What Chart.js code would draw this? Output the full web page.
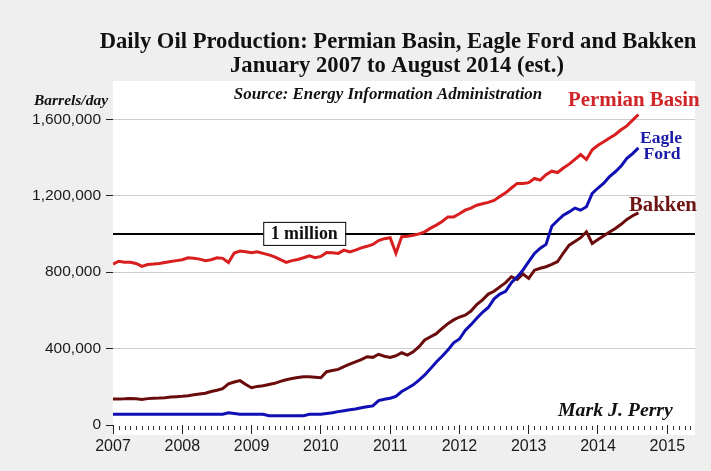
<!DOCTYPE html>
<html><head><meta charset="utf-8">
<script src="https://cdn.jsdelivr.net/npm/chart.js@4"></script>
<style>html,body{margin:0;padding:0;background:#efefef}</style>
</head><body>
<canvas id="c" width="711" height="471"></canvas>
<script>
// monthly, Jan 2007 .. Aug 2014, thousand barrels/day
let startYear=2007;
let permian=[842,857,852,852,845,830,840,842,845,850,855,860,
 865,875,872,868,860,865,875,872,850,900,910,906,
 901,906,898,890,880,865,851,860,866,875,885,875,
 882,903,901,898,915,905,915,927,935,945,965,975,
 980,898,985,988,993,1000,1011,1030,1046,1065,1089,1089,
 1105,1124,1135,1150,1158,1165,1175,1195,1215,1240,1264,1264,
 1268,1290,1281,1310,1328,1321,1345,1365,1390,1415,1389,1440,
 1464,1482,1502,1520,1545,1565,1595,1625];
let eagleFord=[56,56,56,56,56,56,56,56,56,56,56,56,
 56,56,56,56,56,56,56,56,64,60,56,56,
 56,56,56,49,49,49,49,49,49,49,56,56,
 56,60,64,70,75,80,84,90,95,100,128,135,
 140,150,175,192,210,235,262,295,330,360,392,430,
 450,495,525,558,590,615,660,685,700,745,775,810,
 855,898,925,945,1040,1070,1098,1115,1135,1124,1142,1212,
 1240,1265,1300,1325,1355,1395,1420,1450];
let bakken=[136,136,137,139,137,134,138,140,141,143,146,148,
 150,153,158,162,166,175,182,190,215,225,232,212,
 195,202,205,212,218,228,237,243,248,252,253,250,
 247,279,285,291,305,318,330,342,357,354,370,360,
 354,362,378,366,383,410,445,462,478,505,530,550,
 565,575,596,630,655,685,700,723,745,776,762,790,
 767,810,820,828,840,855,900,941,960,980,1011,950,
 970,990,1010,1028,1050,1076,1095,1110];
let yTicks=[0,400000,800000,1200000,1600000];
let years=[2007,2008,2009,2010,2011,2012,2013,2014,2015];
let oneMillion=1000000;
let xMin=2007, xMax=2015.4, yMax=1800000;

function pts(arr){return arr.map((v,i)=>({x:startYear+i/12,y:v*1000}));}

function fit(ctx,text,style,family,w){
    ctx.font=style+' 20px '+family;
    let s=20*w/ctx.measureText(text).width;
    return style+' '+s.toFixed(1)+'px '+family;
}

let serif='"Liberation Serif", serif';

let deco={
    id:'deco',
    beforeDraw(chart){
        let c=chart.ctx, a=chart.chartArea;
        c.save();
        c.fillStyle='#efefef'; c.fillRect(0,0,chart.width,chart.height);
        c.fillStyle='#fff'; c.fillRect(a.left,a.top,a.right-a.left,a.bottom-a.top+10);
        c.restore();
    },
    afterDatasetsDraw(chart){
        let c=chart.ctx, a=chart.chartArea, xs=chart.scales.x, ys=chart.scales.y;
        c.save();
        // monthly minor ticks
        c.strokeStyle='#333'; c.lineWidth=1;
        for(let m=0; startYear+m/12<=xMax; m++){
            if(m%12===0) continue;
            let px=Math.round(xs.getPixelForValue(startYear+m/12))+0.5;
            c.beginPath(); c.moveTo(px,a.bottom+1); c.lineTo(px,a.bottom+5); c.stroke();
        }
        // 1 million box
        let bx=xs.getPixelForValue(2009.76), by=ys.getPixelForValue(oneMillion);
        c.fillStyle='#fff'; c.fillRect(bx-41,by-12,82,23);
        c.strokeStyle='#000'; c.strokeRect(bx-41+0.5,by-12+0.5,82,23);
        c.fillStyle='#111'; c.textAlign='center'; c.textBaseline='middle';
        c.font=fit(c,'1 million','bold',serif,67);
        c.fillText('1 million',bx,by);
        c.restore();
    },
    afterDraw(chart){
        let c=chart.ctx;
        c.save();
        c.textBaseline='middle';
        c.textAlign='center'; c.fillStyle='#111';
        let t1='Daily Oil Production: Permian Basin, Eagle Ford and Bakken';
        let t2='January 2007 to August 2014 (est.)';
        c.font=fit(c,t1,'bold',serif,597); c.fillText(t1,398,42);
        c.fillText(t2,397,66);
        let src='Source: Energy Information Administration';
        c.font=fit(c,src,'italic bold',serif,309); c.fillText(src,388,95);
        c.textAlign='left';
        c.font=fit(c,'Barrels/day','italic bold',serif,74); c.fillText('Barrels/day',34,101);
        c.fillStyle='#d0262a';
        c.font=fit(c,'Permian Basin','bold',serif,132); c.fillText('Permian Basin',568,101);
        c.fillStyle='#1a1aa8'; c.textAlign='center';
        c.font=fit(c,'Eagle','bold',serif,42); c.fillText('Eagle',661,138);
        c.fillText('Ford',662,154);
        c.fillStyle='#6e1414'; c.textAlign='left';
        c.font=fit(c,'Bakken','bold',serif,68); c.fillText('Bakken',629,206);
        c.fillStyle='#111';
        c.font=fit(c,'Mark J. Perry','italic bold',serif,115); c.fillText('Mark J. Perry',558,411);
        c.restore();
    }
};

new Chart(document.getElementById('c'),{
    type:'line',
    data:{datasets:[
        {label:'Permian Basin',data:pts(permian),borderColor:'#d81e1e',borderWidth:3,pointRadius:0,tension:0,order:1},
        {label:'Eagle Ford',data:pts(eagleFord),borderColor:'#0f0fb4',borderWidth:3,pointRadius:0,tension:0,order:2},
        {label:'Bakken',data:pts(bakken),borderColor:'#6b0c0c',borderWidth:3,pointRadius:0,tension:0,order:3},
        {label:'1 million',data:[{x:xMin,y:oneMillion},{x:xMax,y:oneMillion}],borderColor:'#000',borderWidth:2,pointRadius:0,order:10}
    ]},
    options:{
        responsive:false, animation:false, devicePixelRatio:1,
        layout:{padding:{top:81,right:16,left:0,bottom:0}},
        plugins:{legend:{display:false},tooltip:{enabled:false}},
        scales:{
            x:{type:'linear',min:xMin,max:xMax,
                afterBuildTicks(s){s.ticks=years.map(v=>({value:v}));},
                afterFit(s){s.height=46;},
                border:{display:false},
                grid:{drawOnChartArea:false,tickLength:9,tickColor:'#222'},
                ticks:{color:'#1a1a1a',font:{family:'"Liberation Sans", Arial',size:16},padding:3,maxRotation:0,callback:v=>String(v)}
            },
            y:{min:0,max:yMax,
                afterBuildTicks(s){s.ticks=yTicks.map(v=>({value:v}));},
                afterFit(s){s.width=113;},
                border:{display:false},
                grid:{color:c=>c.tick&&c.tick.value===0?'rgba(0,0,0,0)':'#cdcdcd',tickColor:'#222',tickLength:7},
                ticks:{color:'#1a1a1a',font:{family:'"Liberation Sans", Arial',size:15.5},padding:5,callback:v=>v.toLocaleString('en-US')}
            }
        }
    },
    plugins:[deco]
});
</script>
</body></html>
